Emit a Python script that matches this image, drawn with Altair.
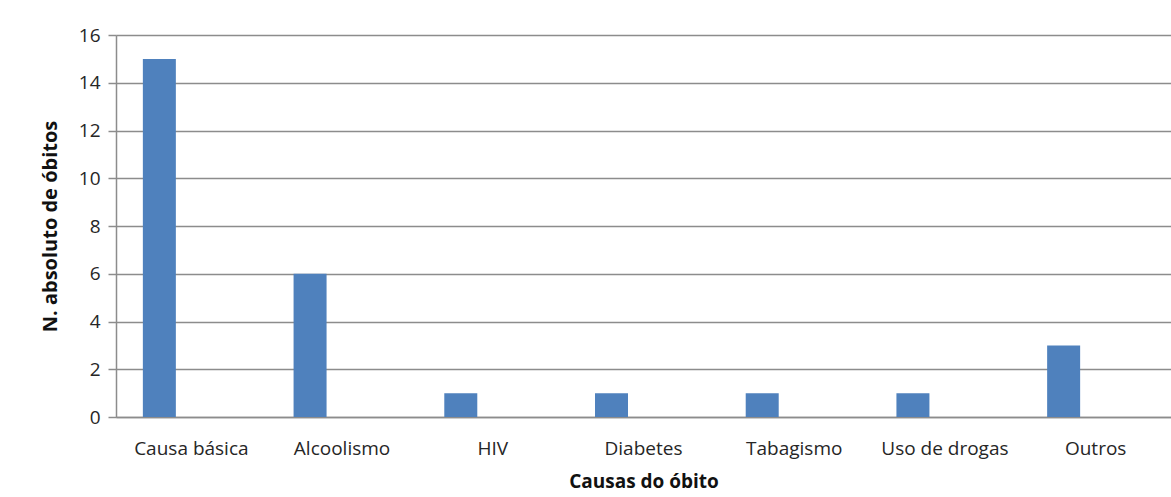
import altair as alt
import pandas as pd

categories = ["Causa básica", "Alcoolismo", "HIV", "Diabetes", "Tabagismo", "Uso de drogas", "Outros"]
values = [15, 6, 1, 1, 1, 1, 3]

df = pd.DataFrame({"causa": categories, "n": values})

FONT = "Open Sans"

chart = alt.Chart(df).mark_bar(width=33, xOffset=-32, color="#4F81BD").encode(
    x=alt.X("causa:N", sort=categories,
            scale=alt.Scale(paddingInner=0, paddingOuter=0),
            axis=alt.Axis(title="Causas  do óbito", labelAngle=0, ticks=False,
                          labelPadding=22, titlePadding=14, labelFontSize=19,
                          titleFontSize=19, titleFontWeight="bold",
                          labelColor="#262626", titleColor="#111111",
                          domainColor="#8c8c8c", domainWidth=1.5, grid=False)),
    y=alt.Y("n:Q", scale=alt.Scale(domain=[0, 16], nice=False),
            axis=alt.Axis(title="N.  absoluto  de  óbitos", values=list(range(0, 17, 2)),
                          tickSize=8, tickColor="#8c8c8c", tickWidth=1.5,
                          labelPadding=8, labelFontSize=19, titleFontSize=20,
                          titleFontWeight="bold", titlePadding=18,
                          labelColor="#262626", titleColor="#111111",
                          domainColor="#8c8c8c", domainWidth=1.5,
                          grid=True, gridColor="#8c8c8c", gridWidth=1.5)),
).properties(
    width=1055, height=382,
    padding={"left": 116, "top": 35, "right": 0, "bottom": 80},
    autosize=alt.AutoSizeParams(type="none"),
).configure_view(stroke=None).configure(
    font=FONT, background="white"
)

chart.save("out.html", embed_options={"renderer": "svg", "actions": False})
